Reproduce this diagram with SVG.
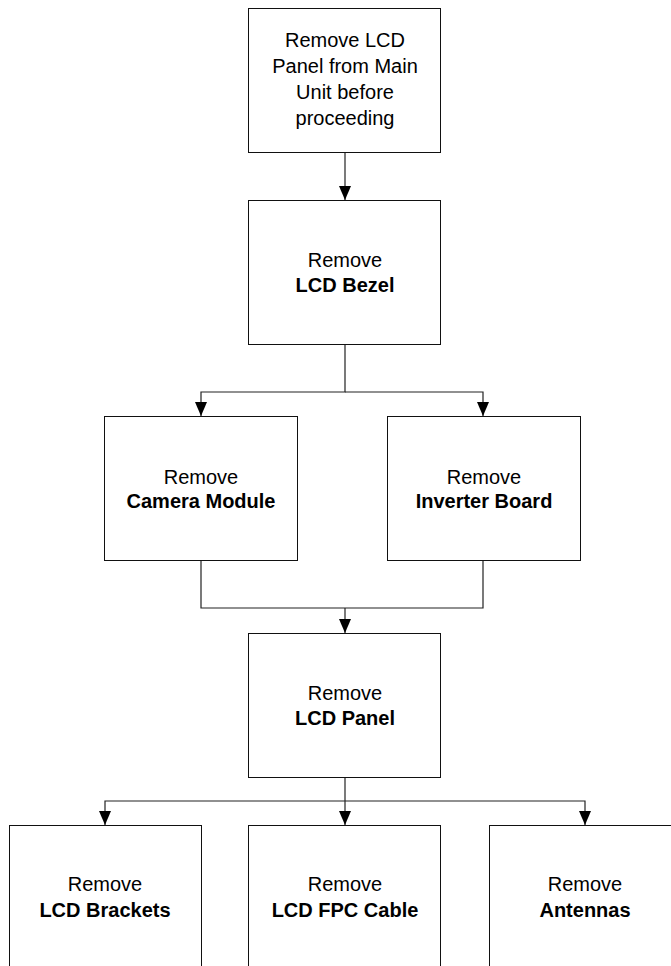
<svg xmlns="http://www.w3.org/2000/svg" width="671" height="966" viewBox="0 0 671 966">
<style>
.box{fill:#fff;stroke:#111;stroke-width:1}
.t{font-family:"Liberation Sans",Arial,sans-serif;font-size:20px;fill:#000;text-anchor:middle}
.b{font-weight:bold}
.c{fill:none;stroke:#222;stroke-width:1.2}
</style>
<defs>
<marker id="ah" markerWidth="14" markerHeight="12" refX="14" refY="6" orient="auto" markerUnits="userSpaceOnUse">
<path d="M0,0 L14,6 L0,12 Z" fill="#000"/>
</marker>
</defs>
<rect width="671" height="966" fill="#fff"/>
<g id="connectors">
<path class="c" d="M345,152 V200" marker-end="url(#ah)"/>
<path class="c" d="M345,345 V392 H201 V416" marker-end="url(#ah)"/>
<path class="c" d="M345,392 H483 V416" marker-end="url(#ah)"/>
<path class="c" d="M201,560 V608 H483 V560"/>
<path class="c" d="M345,608 V633" marker-end="url(#ah)"/>
<path class="c" d="M345,777 V825" marker-end="url(#ah)"/>
<path class="c" d="M345,801 H105 V825" marker-end="url(#ah)"/>
<path class="c" d="M345,801 H585 V825" marker-end="url(#ah)"/>
</g>
<g id="n1"><rect class="box" x="248.5" y="8.5" width="192" height="144"/>
<text class="t" x="345" y="47">Remove LCD</text>
<text class="t" x="345" y="73">Panel from Main</text>
<text class="t" x="345" y="99">Unit before</text>
<text class="t" x="345" y="125">proceeding</text></g>
<g id="n2"><rect class="box" x="248.5" y="200.5" width="192" height="144"/>
<text class="t" x="345" y="267">Remove</text>
<text class="t b" x="345" y="292">LCD Bezel</text></g>
<g id="n3"><rect class="box" x="104.5" y="416.5" width="193" height="144"/>
<text class="t" x="201" y="484">Remove</text>
<text class="t b" x="201" y="508">Camera Module</text></g>
<g id="n4"><rect class="box" x="387.5" y="416.5" width="193" height="144"/>
<text class="t" x="484" y="484">Remove</text>
<text class="t b" x="484" y="508">Inverter Board</text></g>
<g id="n5"><rect class="box" x="248.5" y="633.5" width="192" height="144"/>
<text class="t" x="345" y="700">Remove</text>
<text class="t b" x="345" y="725">LCD Panel</text></g>
<g id="n6"><rect class="box" x="9.5" y="825.5" width="192" height="150"/>
<text class="t" x="105" y="891">Remove</text>
<text class="t b" x="105" y="917">LCD Brackets</text></g>
<g id="n7"><rect class="box" x="248.5" y="825.5" width="192" height="150"/>
<text class="t" x="345" y="891">Remove</text>
<text class="t b" x="345" y="917">LCD FPC Cable</text></g>
<g id="n8"><rect class="box" x="489.5" y="825.5" width="192" height="150"/>
<text class="t" x="585" y="891">Remove</text>
<text class="t b" x="585" y="917">Antennas</text></g>
</svg>
